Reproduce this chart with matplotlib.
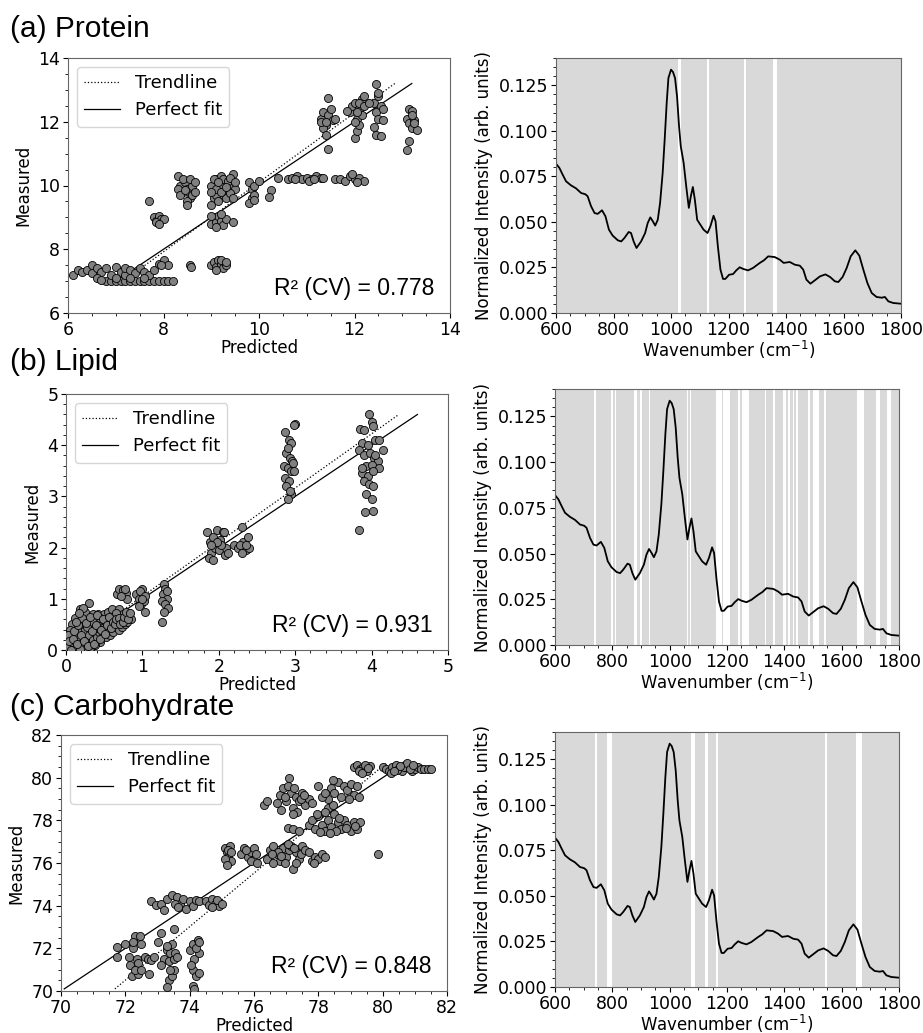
import matplotlib
matplotlib.use("Agg")
import matplotlib.pyplot as plt
import numpy as np

# ---------------- data ----------------
# (a) protein: predicted (x) vs measured (y)
protein_x = [6.8, 6.9, 7.0, 7.1, 7.2, 7.3, 7.4, 7.5, 7.6, 7.7, 7.8, 7.9, 8.0, 8.1, 8.2,
             6.1, 6.2, 6.3, 6.4, 6.5, 6.5, 6.6, 6.7, 6.8, 6.9, 7.0, 7.1, 7.2, 7.2, 7.3, 7.4,
             7.5, 7.6, 7.7, 7.8, 6.6, 6.7, 7.0, 7.3, 7.6, 7.9, 8.0, 8.1, 7.95,
             7.8, 7.85, 7.9, 7.95, 7.85, 8.0, 7.9, 7.7,
             8.3, 8.35, 8.4, 8.45, 8.5, 8.55, 8.6, 8.3, 8.4, 8.5, 8.55, 8.6, 8.65, 8.65, 8.35,
             8.5, 8.45, 8.55, 8.58,
             9.0, 9.05, 9.1, 9.15, 9.2, 9.25, 9.3, 9.35, 9.4, 9.45, 9.5, 9.0, 9.1, 9.2, 9.3,
             9.4, 9.05, 9.15, 9.25, 9.35, 9.45, 9.1, 9.2, 9.3, 9.4, 9.5, 9.15, 9.0,
             9.0, 9.05, 9.1, 9.15, 9.2, 9.25, 9.3, 9.1, 9.2, 9.0, 9.45,
             9.0, 9.05, 9.1, 9.15, 9.2, 9.25, 9.3, 9.1, 9.2, 9.3,
             9.8, 9.85, 9.9, 9.85, 9.8, 9.9, 9.9, 10.0, 10.25, 10.2, 10.4,
             10.6, 10.7, 10.8, 10.9, 11.0, 11.1, 11.2, 11.3, 10.75, 11.05, 11.15, 11.35,
             11.6, 11.7, 11.8, 11.9, 12.0, 12.1, 12.2, 11.95, 12.05,
             11.3, 11.35, 11.4, 11.45, 11.5, 11.35, 11.4, 11.45, 11.45, 11.3, 11.55, 11.6, 11.4,
             11.9, 11.95, 12.0, 12.05, 12.1, 12.15, 12.2, 12.0, 12.05, 12.1, 12.15, 12.0, 12.1,
             11.85, 12.2, 12.05,
             12.45, 12.4, 12.5, 12.55, 12.45, 12.5, 12.4, 12.45, 12.55, 12.6, 12.6, 12.5, 12.3,
             13.1, 13.15, 13.2, 13.15, 13.2, 13.25, 13.3, 13.15, 13.1, 13.25, 13.2]
protein_y = [7.0, 7.0, 7.0, 7.0, 7.0, 7.0, 7.0, 7.0, 7.0, 7.0, 7.0, 7.0, 7.0, 7.0, 7.0,
             7.2, 7.35, 7.3, 7.35, 7.25, 7.5, 7.4, 7.3, 7.4, 7.2, 7.45, 7.3, 7.2, 7.4, 7.35, 7.25,
             7.4, 7.3, 7.2, 7.35, 7.1, 7.05, 7.1, 7.1, 7.1, 7.55, 7.65, 7.5, 7.5,
             9.0, 8.9, 9.05, 8.95, 8.85, 8.95, 8.8, 9.5,
             10.3, 10.0, 9.8, 10.1, 9.9, 9.6, 10.0, 9.9, 10.2, 9.5, 10.2, 9.7, 9.8, 10.1, 9.7,
             9.4, 9.85, 7.5, 7.45,
             10.0, 9.6, 10.2, 9.9, 10.3, 9.7, 10.1, 9.8, 10.0, 10.35, 9.9, 9.4, 9.7, 10.05, 9.6,
             9.75, 10.2, 9.5, 10.2, 10.15, 9.6, 9.9, 9.8, 9.95, 10.25, 10.1, 10.1, 9.8,
             8.8, 9.0, 8.85, 9.05, 8.9, 8.75, 8.95, 8.7, 9.1, 9.05, 8.85,
             7.5, 7.6, 7.45, 7.65, 7.55, 7.4, 7.5, 7.35, 7.65, 7.6,
             10.1, 9.9, 10.0, 9.6, 9.45, 9.7, 9.55, 10.15, 9.85, 9.65, 10.25,
             10.2, 10.25, 10.3, 10.2, 10.25, 10.2, 10.3, 10.25, 10.2, 10.15, 10.2, 10.25,
             10.2, 10.2, 10.15, 10.3, 10.2, 10.25, 10.15, 10.35, 10.1,
             12.1, 12.3, 11.9, 12.2, 12.4, 11.8, 11.6, 11.15, 12.75, 12.0, 12.05, 12.1, 12.0,
             12.3, 12.5, 12.6, 12.1, 12.4, 12.7, 12.8, 11.5, 11.7, 11.9, 12.2, 12.0, 12.6,
             12.35, 12.5, 12.3,
             13.2, 12.6, 12.8, 12.5, 12.3, 12.1, 11.85, 11.6, 11.55, 12.4, 12.05, 12.9, 12.6,
             12.1, 12.4, 12.35, 11.95, 11.8, 12.05, 11.75, 11.4, 11.1, 11.95, 12.2]

# (b) lipid
lipid_x = [0.02, 0.03, 0.05, 0.06, 0.08, 0.1, 0.1, 0.12, 0.13, 0.15, 0.15, 0.17, 0.18, 0.2,
           0.2, 0.22, 0.23, 0.25, 0.25, 0.27, 0.28, 0.3, 0.3, 0.32, 0.33, 0.35, 0.35, 0.37,
           0.38, 0.4, 0.4, 0.42, 0.43, 0.45, 0.45, 0.47, 0.48, 0.5, 0.5, 0.52, 0.53, 0.55,
           0.55, 0.57, 0.58, 0.6, 0.6, 0.62, 0.63, 0.65, 0.67, 0.68, 0.7, 0.7, 0.72, 0.73,
           0.75, 0.77, 0.78, 0.8, 0.82, 0.85, 0.08, 0.12, 0.05, 0.18, 0.28, 0.38, 0.02, 0.35,
           0.45, 0.25, 0.15, 0.4, 0.6, 0.65, 0.5,
           0.0, 0.04, 0.07, 0.09, 0.11, 0.14, 0.16, 0.19, 0.21, 0.24, 0.26, 0.29, 0.31, 0.34,
           0.36, 0.39, 0.41, 0.44, 0.46, 0.49, 0.51, 0.54, 0.56, 0.59, 0.61, 0.64, 0.66,
           0.69, 0.71, 0.74, 0.76, 0.79, 0.81, 0.84, 0.22, 0.17, 0.13,
           0.67, 0.7, 0.75, 0.78, 0.8, 0.72, 0.77,
           0.92, 0.95, 0.98, 1.0, 1.02, 0.97, 1.03, 0.95, 1.03, 0.99,
           1.28, 1.3, 1.27, 1.32, 1.25, 1.3, 1.33, 1.28, 1.25, 1.32,
           1.85, 1.88, 1.9, 1.92, 1.95, 1.98, 2.0, 2.02, 2.05, 2.08, 2.1, 2.12, 1.87, 1.93,
           2.03, 2.07, 1.97, 1.9,
           2.2, 2.25, 2.3, 2.32, 2.35, 2.38, 2.4, 2.3, 2.28, 2.35,
           2.87, 3.0, 2.98, 2.92, 2.95, 2.88, 2.9, 2.93, 2.96, 2.85, 2.9, 2.95, 2.98, 2.87,
           2.92, 2.88, 2.95, 2.9, 2.93, 2.97,
           3.96, 3.85, 3.9, 4.0, 4.02, 3.88, 3.95, 4.05, 4.1, 4.15, 3.83, 3.9, 3.98, 4.03,
           4.08, 3.93, 4.0, 4.1, 3.88, 3.95, 4.02, 3.9, 3.97, 4.02, 3.93, 4.0, 3.92, 4.02,
           3.84, 4.05, 3.87]
lipid_y = [0.1, 0.25, 0.05, 0.35, 0.15, 0.3, 0.0, 0.45, 0.2, 0.6, 0.05, 0.35, 0.8, 0.5,
           0.1, 0.7, 0.25, 0.4, 0.0, 0.6, 0.15, 0.92, 0.3, 0.5, 0.05, 0.7, 0.2, 0.4,
           0.6, 0.25, 0.55, 0.7, 0.35, 0.5, 0.15, 0.65, 0.3, 0.45, 0.7, 0.25, 0.55, 0.4,
           0.75, 0.3, 0.6, 0.5, 0.8, 0.35, 0.65, 0.45, 0.7, 0.55, 0.4, 0.8, 0.6, 0.45,
           0.7, 0.5, 0.62, 0.55, 0.7, 0.6, 0.5, 0.62, 0.4, 0.02, 0.45, 0.1, 0.3, 0.55,
           0.62, 0.75, 0.25, 0.42, 0.62, 0.72, 0.58,
           0.05, 0.18, 0.0, 0.22, 0.38, 0.12, 0.48, 0.3, 0.62, 0.18, 0.52, 0.08, 0.65, 0.38,
           0.12, 0.48, 0.68, 0.22, 0.4, 0.6, 0.32, 0.48, 0.65, 0.42, 0.55, 0.5, 0.6,
           0.62, 0.5, 0.55, 0.65, 0.75, 0.6, 0.72, 0.82, 0.72, 0.55,
           1.1, 1.2, 1.18, 1.12, 1.0, 1.05, 1.2,
           1.1, 1.0, 0.9, 1.2, 0.95, 1.15, 1.05, 0.85, 0.75, 1.0,
           1.28, 1.2, 1.1, 1.0, 0.95, 0.9, 0.82, 0.75, 0.55, 1.15,
           2.3, 2.1, 1.9, 2.2, 2.0, 2.35, 1.95, 2.15, 2.3, 1.85, 2.0, 1.9, 1.8, 1.75,
           2.05, 2.3, 2.1, 2.05,
           2.05, 2.0, 2.4, 2.1, 1.95, 2.2, 2.0, 1.9, 2.05, 2.05,
           4.25, 4.42, 4.4, 4.1, 4.05, 3.85, 3.95, 3.75, 3.7, 3.6, 3.55, 3.5, 3.5, 3.35,
           3.3, 3.2, 3.05, 2.95, 3.1, 3.65,
           4.6, 4.32, 4.3, 4.45, 4.38, 4.05, 4.0, 4.1, 4.1, 3.9, 3.9, 3.8, 3.85, 3.75,
           3.7, 3.6, 3.62, 3.55, 3.45, 3.4, 3.5, 3.3, 3.25, 3.2, 3.05, 2.95, 2.7, 2.72,
           2.35, 3.8, 3.55]

# (c) carbohydrate
carb_x = [71.75, 71.75, 72.0, 72.1, 72.15, 72.2, 72.25, 72.3, 72.35, 72.4, 72.4, 72.45,
          72.5, 72.3, 72.25, 72.5, 72.6, 72.7, 72.8, 72.75, 72.9, 73.0, 73.1, 73.2, 73.1,
          73.3, 73.35, 73.4, 73.45, 73.5, 73.35, 73.3, 73.45, 73.5, 73.55, 73.6, 73.5,
          73.3, 73.4, 74.0, 74.1, 74.15, 74.1, 74.2, 74.25, 74.3, 74.2, 74.1, 74.15, 74.3,
          74.3, 74.05,
          72.8, 72.95, 73.1, 73.2, 73.3, 73.45, 73.6, 73.7, 73.8, 73.9, 74.0, 74.1, 74.2,
          74.3, 73.55, 73.65, 74.5, 74.6, 74.7, 74.8, 74.9, 74.85, 74.7, 75.0,
          75.1, 75.15, 75.2, 75.25, 75.3, 75.1, 75.2, 75.3, 75.15,
          75.6, 75.7, 75.8, 75.9, 76.0, 75.9, 76.05, 75.75, 76.1,
          76.3, 76.4,
          76.4, 76.5, 76.6, 76.7, 76.8, 76.9, 77.0, 77.1, 77.2, 77.3, 77.4, 77.5, 76.6,
          76.75, 76.95, 77.15, 77.3, 77.45, 76.55, 76.85, 77.05, 77.25, 77.6,
          77.7, 77.8, 77.9, 78.0, 78.1, 78.2, 77.85,
          76.7, 76.8, 76.9, 77.0, 77.1, 77.15, 77.2, 77.3, 77.4, 77.5, 77.6, 76.85, 77.05,
          77.25, 77.35, 77.45, 77.7, 77.8, 76.95, 77.2, 77.55,
          77.05, 77.2, 77.4,
          77.7, 77.8, 77.9, 78.0, 78.1, 78.2, 78.3, 78.4, 78.5, 78.6, 78.7, 78.8, 78.9,
          79.0, 79.1, 79.2, 79.3, 78.3, 78.45, 78.2, 78.55, 78.35, 77.95, 78.65, 79.15,
          78.85, 78.05,
          78.4, 78.5, 78.6, 78.7, 78.8, 78.9, 79.0, 79.1, 79.2, 78.3, 78.45, 78.95, 79.25,
          78.1, 78.2, 78.0,
          79.1, 79.2, 79.3, 79.4, 79.5, 79.6, 79.25, 79.45, 79.35, 79.55,
          79.85,
          80.0, 80.1, 80.2, 80.3, 80.4, 80.5, 80.6, 80.7, 80.8, 80.9, 81.0, 81.1, 81.2,
          81.3, 81.4, 81.5, 80.25, 80.45, 80.65, 80.75, 80.85, 80.95, 80.55, 80.35]
carb_y = [72.05, 71.6, 72.2, 71.6, 71.2, 70.7, 72.0, 72.6, 71.5, 70.8, 71.3, 72.6,
          72.2, 71.0, 72.3, 71.0, 71.6, 71.5, 71.45, 70.8, 71.6, 72.3, 72.7, 71.5, 71.2,
          71.9, 71.4, 71.8, 72.2, 71.5, 70.5, 70.2, 70.7, 71.0, 71.8, 71.6, 72.9,
          72.1, 71.0, 71.9, 72.2, 71.5, 71.0, 70.7, 72.4, 71.8, 72.0, 70.25, 70.1, 72.3,
          70.85, 71.2,
          74.2, 74.05, 74.1, 73.8, 74.3, 74.5, 74.4, 74.1, 74.3, 73.85, 74.2, 74.0, 74.25,
          74.2, 74.1, 73.95, 74.2, 74.05, 74.3, 74.1, 74.0, 74.25, 73.95, 74.1,
          76.7, 76.5, 76.3, 76.8, 76.1, 76.2, 76.6, 76.5, 75.9,
          76.4, 76.7, 76.3, 76.5, 76.7, 76.1, 76.4, 76.6, 76.0,
          78.7, 78.9,
          76.2, 76.6, 76.8, 76.4, 76.1, 76.7, 76.3, 76.6, 75.7, 76.5, 76.2, 76.8, 76.0,
          76.5, 76.0, 76.8, 76.0, 76.4, 76.4, 76.35, 76.9, 76.7, 76.6,
          76.5, 76.1, 76.3, 76.2, 76.4, 76.3, 76.0,
          78.8, 79.2, 79.5, 78.9, 80.0, 79.3, 78.6, 79.1, 78.9, 79.3, 78.7, 78.5, 79.6,
          79.5, 78.4, 79.0, 79.0, 78.8, 79.1, 78.3, 79.2,
          77.65, 77.6, 77.5,
          77.8, 78.0, 77.6, 78.2, 77.8, 77.5, 78.0, 77.7, 78.3, 77.9, 77.6, 78.0, 77.8,
          77.5, 77.9, 77.6, 77.9, 78.6, 78.7, 78.4, 77.5, 77.4, 78.3, 78.1, 77.75,
          77.65, 77.45,
          79.5, 79.3, 79.8, 79.1, 79.6, 79.4, 79.7, 79.2, 79.6, 79.0, 79.9, 79.0, 79.1,
          79.1, 79.3, 79.6,
          80.5, 80.6, 80.4, 80.5, 80.3, 80.55, 80.3, 80.6, 80.2, 80.45,
          76.4,
          80.5, 80.4, 80.3, 80.5, 80.6, 80.4, 80.3, 80.6, 80.5, 80.3, 80.4, 80.5, 80.4,
          80.4, 80.4, 80.4, 80.2, 80.35, 80.5, 80.7, 80.4, 80.6, 80.55, 80.3]

# trendlines (slope, intercept) and R^2 (CV)
trend_slope = {"protein": 1.09, "lipid": 1.058, "carb": 1.254}
trend_icpt = {"protein": -0.80, "lipid": -0.01, "carb": -19.78}
r2_cv = {"protein": 0.778, "lipid": 0.931, "carb": 0.848}

# mean spectrum
wavenumber = [600, 612, 623, 635, 652, 670, 687, 702, 710, 722, 734, 745, 760, 772, 784,
              797, 815, 827, 838, 853, 861, 870, 880, 896, 910, 919, 928, 937, 945, 954,
              962, 971, 978, 985, 991, 1000, 1007, 1014, 1021, 1028, 1034, 1044, 1053,
              1062, 1069, 1076, 1083, 1091, 1102, 1113, 1127, 1137, 1148, 1155, 1163,
              1172, 1181, 1189, 1202, 1216, 1227, 1239, 1251, 1268, 1285, 1309, 1323,
              1338, 1361, 1378, 1392, 1413, 1431, 1448, 1460, 1471, 1485, 1500, 1518,
              1537, 1553, 1570, 1582, 1597, 1611, 1625, 1641, 1655, 1669, 1683, 1698,
              1715, 1733, 1744, 1756, 1773, 1800]
intensity = [0.0820, 0.0796, 0.0760, 0.0723, 0.0701, 0.0684, 0.0659, 0.0652, 0.0641,
             0.0586, 0.0549, 0.0544, 0.0564, 0.0531, 0.0458, 0.0425, 0.0399, 0.0393,
             0.0412, 0.0445, 0.0439, 0.0393, 0.0357, 0.0393, 0.0439, 0.0494, 0.0525,
             0.0503, 0.0480, 0.0512, 0.0604, 0.0769, 0.0952, 0.1153, 0.1290, 0.1336,
             0.1323, 0.1290, 0.1190, 0.1025, 0.0915, 0.0824, 0.0695, 0.0577, 0.0641,
             0.0692, 0.0622, 0.0512, 0.0485, 0.0458, 0.0439, 0.0476, 0.0534, 0.0503,
             0.0366, 0.0238, 0.0187, 0.0187, 0.0210, 0.0214, 0.0234, 0.0251, 0.0242,
             0.0234, 0.0247, 0.0275, 0.0289, 0.0311, 0.0307, 0.0293, 0.0275, 0.0280,
             0.0265, 0.0260, 0.0238, 0.0183, 0.0161, 0.0179, 0.0201, 0.0212, 0.0198,
             0.0174, 0.0170, 0.0198, 0.0247, 0.0311, 0.0344, 0.0315, 0.0238, 0.0165,
             0.0110, 0.0088, 0.0084, 0.0088, 0.0064, 0.0055, 0.0051]

# white gaps in the shaded wavenumber ranges (cm^-1)
gaps_protein = [(1025, 1035), (1124, 1131), (1253, 1260), (1355, 1370)]
gaps_lipid = [(735, 742), (797, 803), (808, 813), (877, 885), (897, 903), (928, 932),
              (1059, 1065), (1070, 1074), (1161, 1181), (1187, 1210), (1239, 1245),
              (1254, 1276), (1332, 1336), (1361, 1367), (1396, 1405), (1413, 1419),
              (1431, 1434), (1442, 1448), (1474, 1477), (1483, 1489), (1500, 1521),
              (1539, 1544), (1655, 1678), (1721, 1735), (1759, 1773)]
gaps_carb = [(738, 746), (783, 799), (1073, 1087), (1122, 1134), (1160, 1169),
             (1541, 1549), (1651, 1672)]

# ---------------- figure ----------------
W, H = 923, 1033
fig = plt.figure(figsize=(W / 100, H / 100), dpi=100)

def px_axes(l, t, r, b):
    return fig.add_axes([l / W, 1 - b / H, (r - l) / W, (b - t) / H])

spine_col = "#666666"

def scatter_panel(ax, x, y, key, lim, step):
    x = np.array(x)
    y = np.array(y)
    ymin, ymax = y.min(), y.max()
    yy = np.array([ymin, ymax])
    ax.plot((yy - trend_icpt[key]) / trend_slope[key], yy, ":", color="k", lw=0.9,
            label="Trendline", zorder=2)
    ax.plot(yy, yy, "-", color="k", lw=0.9, label="Perfect fit", zorder=2)
    ax.scatter(x, y, s=34, c="#808080", edgecolors="k", linewidths=0.6, zorder=3)
    ax.set_xlim(lim)
    ax.set_ylim(lim)
    ax.set_xticks(np.arange(lim[0], lim[1] + 0.01, step))
    ax.set_yticks(np.arange(lim[0], lim[1] + 0.01, step))
    ax.minorticks_on()
    ax.set_xlabel("Predicted", fontsize=12, labelpad=0)
    ax.set_ylabel("Measured", fontsize=12)
    ax.tick_params(labelsize=12.5, pad=2)
    for s in ax.spines.values():
        s.set_color(spine_col)
    ax.legend(loc="upper left", fontsize=13, handlelength=2.0)
    ax.text(0.96, 0.07, "R² (CV) = %.3f" % r2_cv[key], transform=ax.transAxes,
            ha="right", va="baseline", fontsize=16.5, family="Liberation Sans")


def spectrum_panel(ax, gaps):
    ax.set_facecolor("#d9d9d9")
    for g in gaps:
        ax.axvspan(g[0], g[1], color="white", lw=0, zorder=0)
    ax.plot(wavenumber, intensity, color="k", lw=1.3, zorder=2)
    ax.set_xlim(600, 1800)
    ax.set_ylim(0, 0.14)
    ax.set_xticks(np.arange(600, 1801, 200))
    ax.set_yticks(np.arange(0, 0.126, 0.025))
    ax.minorticks_on()
    ax.set_xlabel("Wavenumber (cm$^{-1}$)", fontsize=12, labelpad=0)
    ax.set_ylabel("Normalized Intensity (arb. units)", fontsize=12)
    ax.tick_params(labelsize=12.5, pad=2)
    for s in ax.spines.values():
        s.set_color(spine_col)


ax1 = px_axes(68, 58, 450, 313)
scatter_panel(ax1, protein_x, protein_y, "protein", (6, 14), 2)
ax2 = px_axes(556, 58, 901, 313)
spectrum_panel(ax2, gaps_protein)

ax3 = px_axes(66, 394, 448, 650)
scatter_panel(ax3, lipid_x, lipid_y, "lipid", (0, 5), 1)
ax4 = px_axes(555, 389, 899, 645)
spectrum_panel(ax4, gaps_lipid)

ax5 = px_axes(61, 735, 447, 991)
scatter_panel(ax5, carb_x, carb_y, "carb", (70, 82), 2)
ax6 = px_axes(555, 732, 899, 987)
spectrum_panel(ax6, gaps_carb)

for label, ybase in [("(a) Protein", 37), ("(b) Lipid", 370), ("(c) Carbohydrate", 715)]:
    fig.text(10 / W, 1 - ybase / H, label, fontsize=21.5, family="Liberation Sans",
             ha="left", va="baseline")

fig.savefig("out.png", dpi=100)
